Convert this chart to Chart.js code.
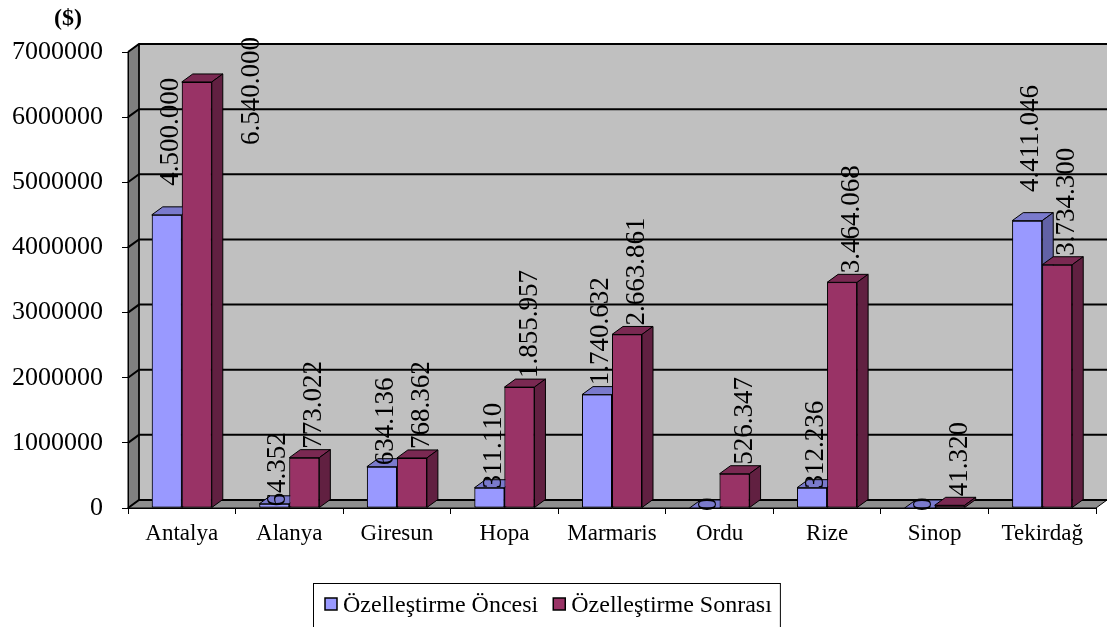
<!DOCTYPE html>
<html>
<head>
<meta charset="utf-8">
<script src="https://cdn.jsdelivr.net/npm/chart.js@4.4.1/dist/chart.umd.min.js"></script>
<style>
  html, body { margin: 0; padding: 0; background: #fff; }
  canvas { display: block; }
</style>
</head>
<body>
<canvas id="c" width="1107" height="627"></canvas>
<script>
// Port revenues before / after privatisation, in dollars
const categories = ['Antalya', 'Alanya', 'Giresun', 'Hopa', 'Marmaris', 'Ordu', 'Rize', 'Sinop', 'Tekirdağ'];
const seriesNames = ['Özelleştirme Öncesi', 'Özelleştirme Sonrası'];
const oncesi  = [4500000, 64352, 634136, 311110, 1740632, 0, 312236, 0, 4411046];
const sonrasi = [6540000, 773022, 768362, 1855957, 2663861, 526347, 3464068, 41320, 3734300];
const yTicks  = [0, 1000000, 2000000, 3000000, 4000000, 5000000, 6000000, 7000000];
const unitLabel = '($)';

const SERIF = "'Liberation Serif', 'Times New Roman', serif";
const DX = 11, DY = -8;            // depth offset of the box
const FACE = [
  { front: '#9999ff', top: '#7a7acc', side: '#6262a6' },
  { front: '#993366', top: '#7a2952', side: '#612041' }
];

// Turkish thousands separator
function fmt(v) { return String(v).replace(/\B(?=(\d{3})+(?!\d))/g, '.'); }

function poly(ctx, pts, fill) {
  ctx.beginPath();
  ctx.moveTo(pts[0][0], pts[0][1]);
  for (let i = 1; i < pts.length; i++) ctx.lineTo(pts[i][0], pts[i][1]);
  ctx.closePath();
  ctx.fillStyle = fill;
  ctx.fill();
  ctx.stroke();
}

function drawFaces(ctx, el, face) {
  const { x, y, base, width } = el.getProps(['x', 'y', 'base', 'width'], true);
  const l = x - width / 2, r = x + width / 2;
  ctx.save();
  ctx.strokeStyle = '#000';
  ctx.lineWidth = 1;
  ctx.lineJoin = 'round';
  poly(ctx, [[l, y], [l + DX, y + DY], [r + DX, y + DY], [r, y]], face.top);
  poly(ctx, [[r, y], [r + DX, y + DY], [r + DX, base + DY], [r, base]], face.side);
  ctx.restore();
}

const box3d = {
  id: 'box3d',
  beforeDraw(chart) {
    const { ctx, chartArea: a } = chart;
    const ys = chart.scales.y;
    ctx.save();
    ctx.fillStyle = '#fff';
    ctx.fillRect(0, 0, chart.width, chart.height);
    // back wall
    ctx.fillStyle = '#c0c0c0';
    ctx.fillRect(a.left + DX, a.top + DY, a.right - a.left, a.bottom - a.top);
    // side wall
    ctx.strokeStyle = '#000';
    ctx.lineWidth = 1;
    poly(ctx, [[a.left, a.top], [a.left + DX, a.top + DY], [a.left + DX, a.bottom + DY], [a.left, a.bottom]], '#808080');
    // floor
    poly(ctx, [[a.left, a.bottom], [a.left + DX, a.bottom + DY], [a.right + DX, a.bottom + DY], [a.right, a.bottom]], '#8e8e8e');
    // gridlines on the walls
    ctx.lineWidth = 2;
    yTicks.forEach(v => {
      const py = ys.getPixelForValue(v);
      ctx.beginPath();
      ctx.moveTo(a.left, py);
      ctx.lineTo(a.left + DX, py + DY);
      ctx.lineTo(a.right + DX, py + DY);
      ctx.stroke();
    });
    ctx.lineWidth = 1.5;
    ctx.beginPath();
    ctx.moveTo(a.left + DX, a.top + DY);
    ctx.lineTo(a.left + DX, a.bottom + DY);
    ctx.stroke();
    ctx.restore();
  },
  afterDatasetsDraw(chart) {
    const { ctx, chartArea: a } = chart;
    // redraw bars left to right within each group so each box hides the one on its left
    [0, 1].forEach(di => {
      chart.getDatasetMeta(di).data.forEach(el => {
        el.draw(ctx, a);
        drawFaces(ctx, el, FACE[di]);
      });
    });
    // value labels, rotated
    ctx.save();
    ctx.font = '27px ' + SERIF;
    ctx.fillStyle = '#000';
    [0, 1].forEach(di => {
      const vals = chart.data.datasets[di].data;
      chart.getDatasetMeta(di).data.forEach((el, i) => {
        const { x, y, base, width } = el.getProps(['x', 'y', 'base', 'width'], true);
        const txt = fmt(vals[i]);
        const len = ctx.measureText(txt).width;
        let cx = x + (di === 0 ? 4 : 10);
        let bottom = di === 0 ? y + 3 - 0.11 * (base - y) : y - 9;
        if (bottom - len < a.top - 15) {
          bottom = a.top - 15 + len;
          cx = x + width / 2 + DX + 29;
        }
        ctx.save();
        ctx.translate(cx, bottom);
        ctx.rotate(-Math.PI / 2);
        ctx.textAlign = 'left';
        ctx.textBaseline = 'middle';
        ctx.fillText(txt, 0, 0);
        ctx.restore();
      });
    });
    ctx.restore();
  },
  afterDraw(chart) {
    const ctx = chart.ctx;
    ctx.save();
    ctx.fillStyle = '#000';
    ctx.font = 'bold 24px ' + SERIF;
    ctx.textAlign = 'center';
    ctx.textBaseline = 'middle';
    ctx.fillText(unitLabel, 68, 19);
    // legend
    ctx.font = '24px ' + SERIF;
    ctx.textAlign = 'left';
    ctx.textBaseline = 'alphabetic';
    let x = 325;
    const boxTop = 583;
    chart.data.datasets.forEach(ds => {
      ctx.fillStyle = ds.backgroundColor;
      ctx.fillRect(x, 598, 12, 12);
      ctx.strokeStyle = '#000';
      ctx.lineWidth = 1.5;
      ctx.strokeRect(x, 598, 12, 12);
      ctx.fillStyle = '#000';
      ctx.fillText(ds.label, x + 18, 612);
      x += 18 + ctx.measureText(ds.label).width + 15;
    });
    const right = x - 15 + 8;
    ctx.strokeStyle = '#000';
    ctx.lineWidth = 1;
    ctx.strokeRect(313.5, boxTop + 0.5, right - 313, 60);
    ctx.restore();
  }
};

new Chart(document.getElementById('c'), {
  type: 'bar',
  data: {
    labels: categories,
    datasets: [
      { label: seriesNames[0], data: oncesi, backgroundColor: FACE[0].front, borderColor: '#000', borderWidth: 1, borderSkipped: false },
      { label: seriesNames[1], data: sonrasi, backgroundColor: FACE[1].front, borderColor: '#000', borderWidth: 1, borderSkipped: false }
    ]
  },
  options: {
    responsive: false,
    devicePixelRatio: 1,
    animation: false,
    layout: { padding: { top: 52, right: 11, bottom: 79, left: 0 } },
    datasets: { bar: { categoryPercentage: 0.558, barPercentage: 1.0 } },
    plugins: { legend: { display: false }, tooltip: { enabled: false } },
    scales: {
      x: {
        ticks: { font: { family: SERIF, size: 23 }, color: '#000', padding: 6, maxRotation: 0, autoSkip: false },
        grid: { display: true, drawOnChartArea: false, drawTicks: true, tickLength: 6, color: '#000', offset: true },
        border: { display: true, color: '#000', width: 1 },
        afterFit(s) { s.height = 40; }
      },
      y: {
        min: 0,
        max: 7000000,
        afterBuildTicks(s) { s.ticks = yTicks.map(v => ({ value: v })); },
        ticks: { callback: v => String(v), font: { family: SERIF, size: 26 }, color: '#000', padding: 19 },
        grid: { display: true, drawOnChartArea: false, drawTicks: true, tickLength: 6, color: '#000' },
        border: { display: true, color: '#000', width: 1 },
        afterFit(s) { s.width = 128; }
      }
    }
  },
  plugins: [box3d]
});
</script>
</body>
</html>
